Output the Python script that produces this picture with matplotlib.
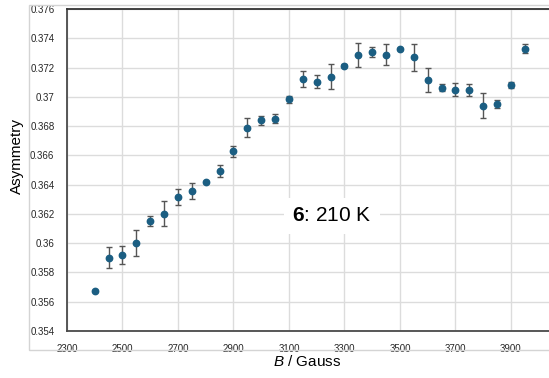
"""
Asymmetrie gegen Magnetfeld, Probe 6 bei 210 K.
"""

import numpy as np
import matplotlib.pyplot as plt
from matplotlib import rcParams
from matplotlib.ticker import FuncFormatter, MultipleLocator
from matplotlib.patches import Rectangle

rcParams['font.family'] = ['Liberation Sans', 'DejaVu Sans']
rcParams['mathtext.fontset'] = 'custom'
rcParams['mathtext.rm'] = 'Liberation Sans'
rcParams['mathtext.it'] = 'Liberation Sans:italic'
rcParams['mathtext.bf'] = 'Liberation Sans:bold'

field = [2400, 2450, 2500, 2550, 2600, 2650, 2700, 2750, 2800, 2850,
         2900, 2950, 3000, 3050, 3100, 3150, 3200, 3250, 3300, 3350,
         3400, 3450, 3500, 3550, 3600, 3650, 3700, 3750, 3800, 3850,
         3900, 3950]
asym = [0.35675, 0.35901, 0.35919, 0.36001, 0.36152, 0.36202, 0.36315, 0.36354,
        0.36418, 0.36493, 0.36628, 0.36789, 0.36839, 0.36851, 0.36983, 0.37122,
        0.37103, 0.37138, 0.37213, 0.37286, 0.37304, 0.37288, 0.37327, 0.37270,
        0.37113, 0.37063, 0.37049, 0.37047, 0.36939, 0.36951, 0.37079, 0.37327]
asym_err = [0.00005, 0.0007, 0.0006, 0.0009, 0.00036, 0.00085, 0.00052, 0.00054,
            0.00008, 0.00038, 0.00036, 0.00065, 0.0003, 0.0003, 0.00026, 0.00054,
            0.00044, 0.00084, 0.00008, 0.00085, 0.00034, 0.0007, 0.00008, 0.00091,
            0.00082, 0.00026, 0.00042, 0.00039, 0.00084, 0.00025, 0.00022, 0.00031]
x_ticks = [2300, 2500, 2700, 2900, 3100, 3300, 3500, 3700, 3900]

label_text = r'$\mathbf{6}$: 210 K'

fig = plt.figure(figsize=(5.49, 3.78), dpi=100)
W, H = 549, 378

# Äußerer heller Rahmen
fig.patches.append(Rectangle((29 / W, 1 - 350 / H), 1.0, (350 - 5) / H,
                             transform=fig.transFigure, fill=False,
                             edgecolor='#d4d4d4', linewidth=1.0))

ax = fig.add_axes([67 / W, 1 - 331 / H, (549 - 67) / W, (331 - 9) / H])

ax.errorbar(field, asym, yerr=asym_err, fmt='o', color='#1b5e82',
            markersize=4.6, ecolor='#555555', elinewidth=1.0,
            capsize=2.2, capthick=1.0, zorder=3)

ax.set_xlim(2300, 4037)
ax.set_ylim(0.354, 0.376)
ax.set_xticks(x_ticks)
ax.yaxis.set_major_locator(MultipleLocator(0.002))
ax.yaxis.set_major_formatter(FuncFormatter(lambda v, p: f'{v:.3f}'.rstrip('0')))
ax.xaxis.set_major_formatter(FuncFormatter(lambda v, p: f'{v:.0f}'))

ax.tick_params(length=0, labelsize=7, labelcolor='#262626')
ax.tick_params(axis='x', pad=9)
ax.tick_params(axis='y', pad=9)

ax.grid(True, color='#dcdcdc', linewidth=1.0)
ax.set_axisbelow(True)

for s in ['left', 'bottom']:
    ax.spines[s].set_color('#4a4a4a')
    ax.spines[s].set_linewidth(1.3)
ax.spines['top'].set_color('#333333')
ax.spines['top'].set_linewidth(1.3)
ax.spines['right'].set_visible(False)

fig.text(17 / W, 1 - 156 / H, 'Asymmetry', rotation=90, fontsize=11,
         ha='center', va='center')
fig.text(307 / W, 1 - 362 / H, r'$B$ / Gauss', fontsize=11,
         ha='center', va='center')

ax.text(3255, 0.36186, label_text, fontsize=15, ha='center', va='center',
        bbox=dict(facecolor='white', edgecolor='none', pad=6), zorder=4)

plt.savefig('out.png', dpi=100)
